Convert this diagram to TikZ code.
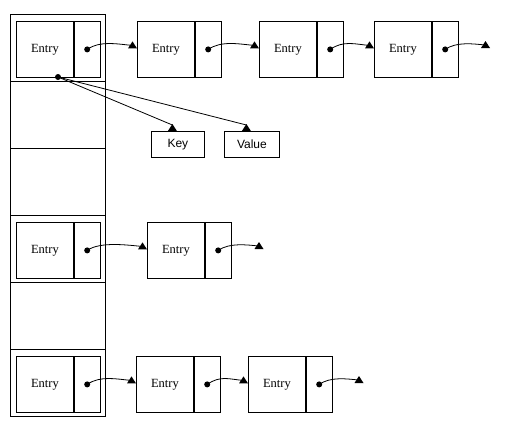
\documentclass[tikz,border=0pt]{standalone}
\usepackage{fontspec}
\setmainfont{Liberation Serif}
\newfontfamily\arialf{Liberation Sans}
\begin{document}
\begin{tikzpicture}[x=1pt,y=-1pt,line width=0.8pt,
 entrybox/.style={draw, minimum width=57pt, minimum height=56pt, inner sep=0pt, font=\fontsize{12.5}{14}\selectfont, anchor=north west},
 ptrbox/.style={draw, minimum width=26pt, minimum height=56pt, inner sep=0pt, anchor=north west},
 kvbox/.style={draw, minimum height=26pt, inner sep=0pt, font=\arialf\fontsize{12}{14}\selectfont, anchor=north west},
 slotbox/.style={draw, minimum width=95pt, minimum height=67pt, inner sep=0pt, anchor=north west},
 headtip/.pic={\fill (-4.5,0) -- (4.5,0) -- (0,-7) -- cycle;},
 dotmark/.style={circle, fill, inner sep=0pt, minimum size=6pt}]
\useasboundingbox (0,0) rectangle (519,424);
% bucket column
\node[slotbox] (s1) at (10,14) {};
\node[slotbox] (s2) at (10,81) {};
\node[slotbox] (s3) at (10,148) {};
\node[slotbox] (s4) at (10,215) {};
\node[slotbox] (s5) at (10,282) {};
\node[slotbox] (s6) at (10,349) {};
% row 1
\node[entrybox] (e1a) at (16,21) {Entry};
\node[ptrbox] (p1a) at (e1a.north east) {};
\node[entrybox] (e1b) at (137,21) {Entry};
\node[ptrbox] (p1b) at (e1b.north east) {};
\node[entrybox] (e1c) at (259,21) {Entry};
\node[ptrbox] (p1c) at (e1c.north east) {};
\node[entrybox] (e1d) at (374,21) {Entry};
\node[ptrbox] (p1d) at (e1d.north east) {};
\coordinate (end1) at (485.5,48);
% row 4
\node[entrybox] (e4a) at (16,222) {Entry};
\node[ptrbox] (p4a) at (e4a.north east) {};
\node[entrybox] (e4b) at (147,222) {Entry};
\node[ptrbox] (p4b) at (e4b.north east) {};
\coordinate (end4) at (259,249);
% row 6
\node[entrybox] (e6a) at (16,356) {Entry};
\node[ptrbox] (p6a) at (e6a.north east) {};
\node[entrybox] (e6b) at (136,356) {Entry};
\node[ptrbox] (p6b) at (e6b.north east) {};
\node[entrybox] (e6c) at (248,356) {Entry};
\node[ptrbox] (p6c) at (e6c.north east) {};
\coordinate (end6) at (359,383);
% dots
\foreach \p in {p1a,p1b,p1c,p1d,p4a,p4b,p6a,p6b,p6c}
  \node[dotmark] (d\p) at (\p.center) {};
% links between entries
\foreach \a/\b in {p1a/e1b,p1b/e1c,p1c/e1d,p4a/e4b,p6a/e6b,p6b/e6c}{
  \draw (d\a.center) .. controls +(-35:16) and +(-175:14) .. ([shift={(-5,-4)}]\b.west);
  \pic at ([shift={(-4.5,-1)}]\b.west) {headtip};
}
% free ends
\foreach \a/\b in {p1d/end1,p4b/end4,p6c/end6}{
  \draw (d\a.center) .. controls +(-35:14) and +(-175:12) .. ([yshift=3pt]\b);
  \pic at (\b) {headtip};
}
% key / value
\node[kvbox, minimum width=53pt] (key) at (151,131) {Key};
\node[kvbox, minimum width=55pt] (val) at (224,131) {Value};
\node[dotmark] (kv) at (58,77) {};
\draw (kv.center) -- ([shift={(-5.5,-6)}]key.north);
\pic at ([xshift=-5.5pt]key.north) {headtip};
\draw (kv.center) -- ([shift={(-5.5,-6)}]val.north);
\pic at ([xshift=-5.5pt]val.north) {headtip};
\end{tikzpicture}
\end{document}
